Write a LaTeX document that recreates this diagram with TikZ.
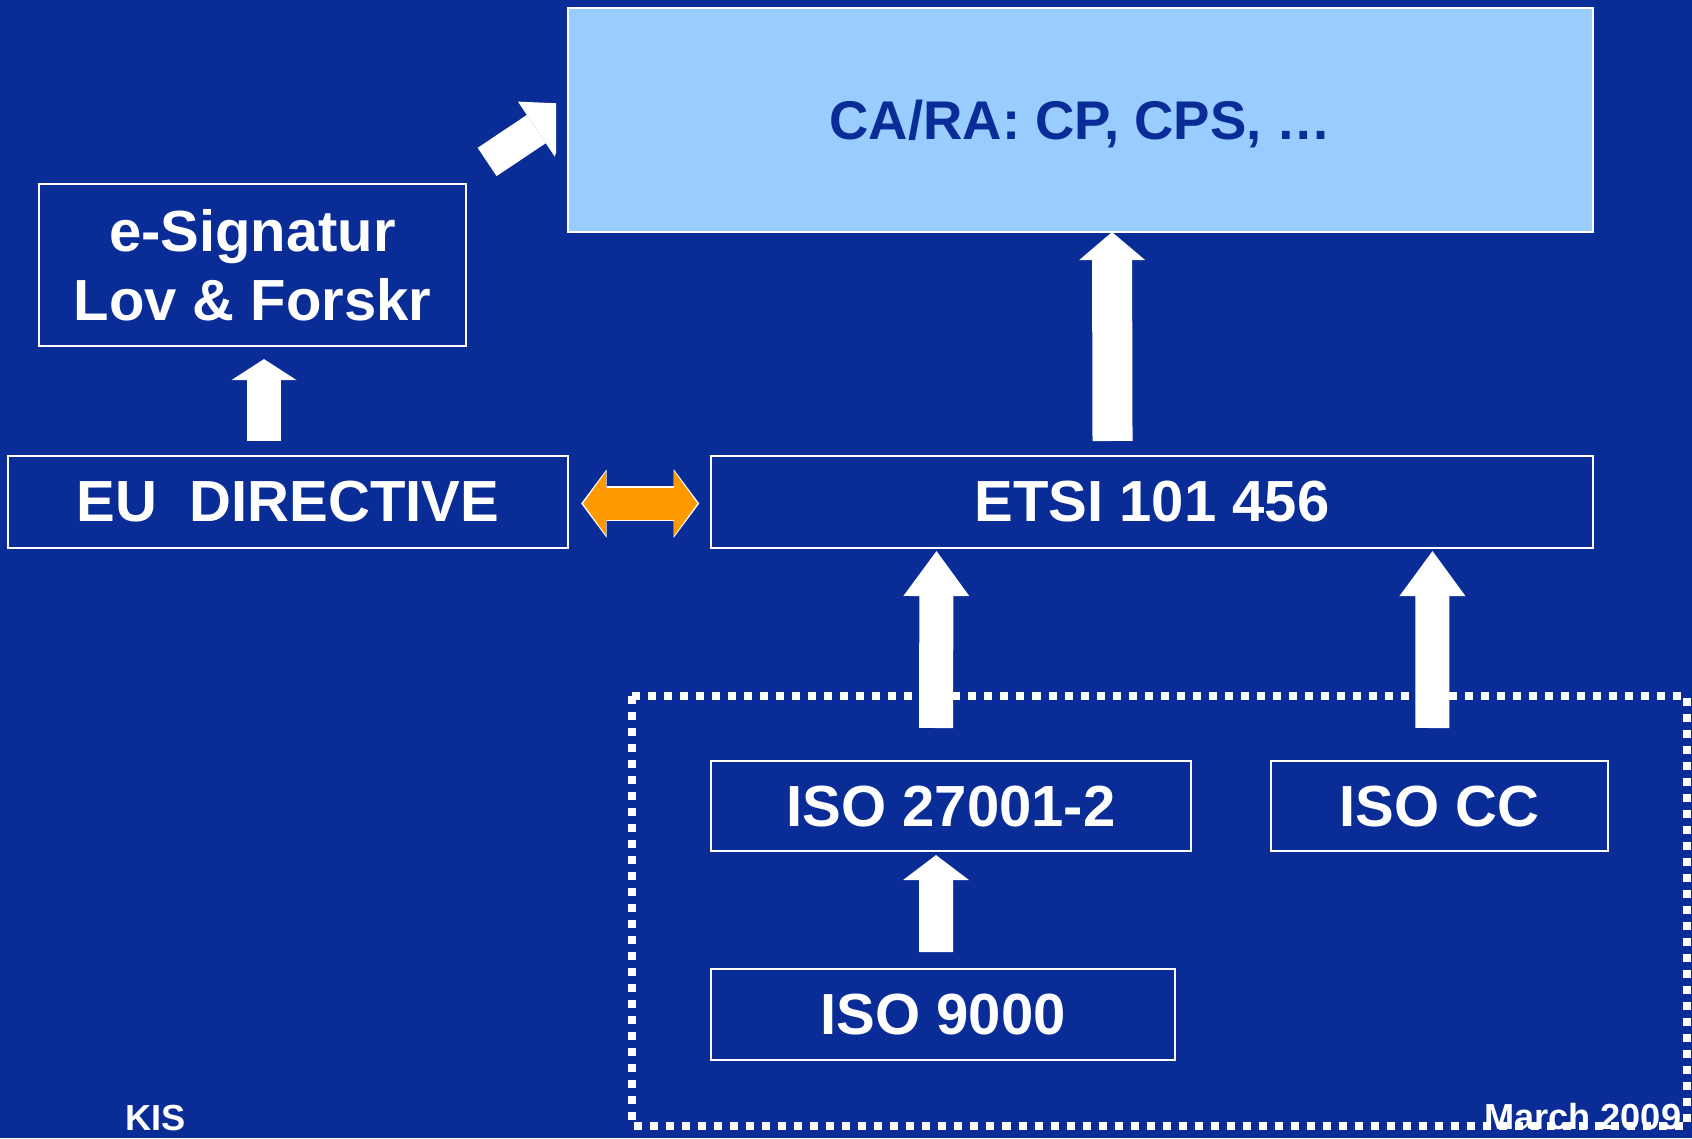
\documentclass[tikz,border=0pt]{standalone}
\usepackage{fontspec}
\setmainfont{Liberation Sans}
\definecolor{SlideBlue}{HTML}{0A2C97}
\definecolor{PaleBlue}{HTML}{99CCFF}
\definecolor{ArrowOrange}{HTML}{FF9900}
\usetikzlibrary{
  arrows.meta,
  positioning
}

\begin{document}
\begin{tikzpicture}[
  x=0.01cm, y=-0.01cm,
  box/.style={
    rectangle, draw=white, line width=0.6pt,
    text=white, inner sep=0pt, outer sep=0pt,
    font=\fontsize{16.5}{19.6}\selectfont\bfseries,
    align=center
  },
  uparr/.style={
    white, line width=0.34cm
  },
  dblarr/.style={
    line width=0.32cm, ArrowOrange,
    {Triangle[length=0.23cm, width=0.64cm, line width=0pt]}-{Triangle[length=0.23cm, width=0.64cm, line width=0pt]}
  },
  dblrim/.style={
    line width=0.355cm, white,
    {Triangle[length=0.255cm, width=0.685cm, line width=0pt]}-{Triangle[length=0.255cm, width=0.685cm, line width=0pt]}
  },
  footer/.style={
    font=\fontsize{10.3}{12}\selectfont\bfseries,
    text=white, inner sep=0pt
  }
]
  \fill[SlideBlue] (0,0) rectangle (1692,1138);
  \useasboundingbox (0,0) rectangle (1692,1138);

  % dotted frame round the ISO standards
  \draw[white, line width=0.08cm, dash pattern=on 0.08cm off 0.08cm]
    (632,696) rectangle (1687,1126);

  \node[box, fill=PaleBlue, text=SlideBlue, text depth=0pt,
    font=\fontsize{15.5}{18}\selectfont\bfseries,
    minimum width=10.25cm, minimum height=2.24cm] (capol) at (1080.5,120) {CA/RA: CP, CPS, …};
  \node[box, minimum width=4.27cm, minimum height=1.62cm] (esig) at (252.5,265) {e-Signatur\\Lov \& Forskr};
  \node[box, minimum width=5.6cm, minimum height=0.92cm] (eu) at (288,502) {EU\ \ DIRECTIVE};
  \node[box, minimum width=8.81cm, minimum height=0.92cm, right=1.43cm of eu] (etsi) {ETSI 101 456};
  \node[box, minimum width=4.8cm, minimum height=0.9cm] (iso27) at (951,806) {ISO 27001-2};
  \node[box, minimum width=3.37cm, minimum height=0.9cm, right=0.8cm of iso27] (isocc) {ISO CC};
  \node[box, minimum width=4.64cm, minimum height=0.91cm,
    below=1.18cm of iso27.south west, anchor=north west] (iso9000) {ISO 9000};

  \draw[uparr, -{Triangle[length=0.21cm, width=0.65cm, line width=0pt]}]
    ([shift={(-24,-15)}]eu.north) -- ([shift={(11.5,13)}]esig.south);
  \draw[uparr, line width=0.40cm, -{Triangle[length=0.28cm, width=0.66cm, line width=0pt]}]
    ([shift={(-39.5,-15)}]etsi.north) -- ([shift={(31.5,0)}]capol.south);
  \draw[uparr, -{Triangle[length=0.45cm, width=0.66cm, line width=0pt]}]
    ([shift={(-15,-33)}]iso27.north) -- ([shift={(-215.5,3)}]etsi.south);
  \draw[uparr, -{Triangle[length=0.45cm, width=0.66cm, line width=0pt]}]
    ([shift={(-7.5,-33)}]isocc.north) -- ([shift={(280.5,3)}]etsi.south);
  \draw[uparr, -{Triangle[length=0.25cm, width=0.66cm, line width=0pt]}]
    ([shift={(-7,-17)}]iso9000.north) -- ([shift={(-15,4)}]iso27.south);

  % slanted arrow, cut off before the CA/RA box
  \begin{scope}
    \clip (0,0) rectangle (556,400);
    \draw[uparr, -{Triangle[length=0.45cm, width=0.66cm, line width=0pt]}]
      ([shift={(21,-22)}]esig.north east) -- ([shift={(6,-16)}]capol.west);
  \end{scope}

  \draw[dblrim] ([shift={(13,1.5)}]eu.east) -- ([shift={(-12,1.5)}]etsi.west);
  \draw[dblarr] ([shift={(15,1.5)}]eu.east) -- ([shift={(-14,1.5)}]etsi.west);

  \node[footer, anchor=base west] (kis) at (125,1130) {KIS};
  \node[footer, anchor=base east] (date) at (1682,1129) {March 2009};
\end{tikzpicture}
\end{document}
